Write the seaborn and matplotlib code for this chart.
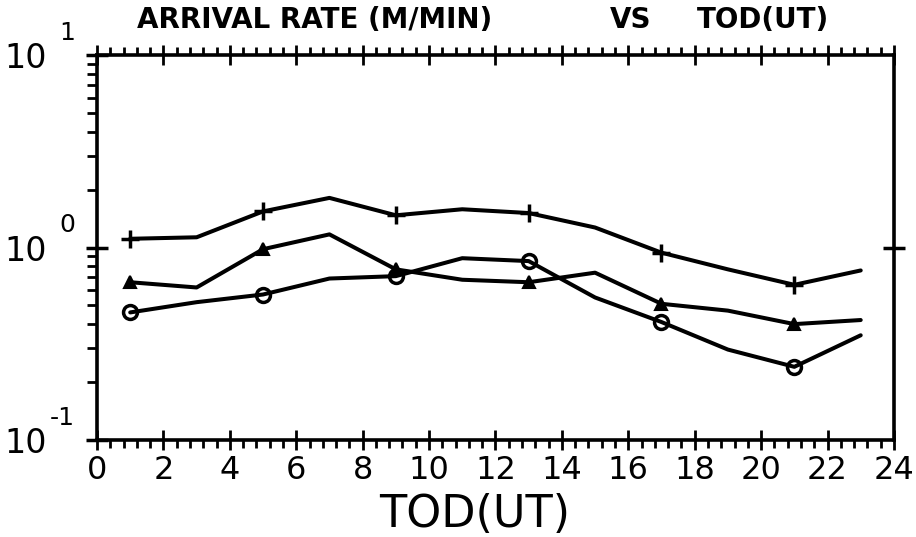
import numpy as np
import pandas as pd
import matplotlib
matplotlib.use('Agg')
import matplotlib.pyplot as plt
import seaborn as sns
from matplotlib.ticker import MultipleLocator, LogLocator, FixedLocator, NullLocator, NullFormatter

# data (arrival rate, meteors per minute, vs time of day)
hours = [1, 3, 5, 7, 9, 11, 13, 15, 17, 19, 21, 23]
rate_plus = [1.11, 1.13, 1.54, 1.81, 1.47, 1.58, 1.51, 1.27, 0.94, 0.77, 0.64, 0.76]
rate_tri = [0.66, 0.62, 0.98, 1.17, 0.77, 0.68, 0.66, 0.74, 0.51, 0.47, 0.40, 0.42]
rate_circ = [0.46, 0.52, 0.57, 0.69, 0.71, 0.88, 0.85, 0.55, 0.41, 0.295, 0.24, 0.35]

series_names = ['plus', 'tri', 'circ']
x_ticks = list(range(0, 25, 2))
y_ticks = [0.1, 1, 10]
y_exponents = ['-1', '0', '1']

df = pd.DataFrame({
    'TOD': hours * 3,
    'rate': rate_plus + rate_tri + rate_circ,
    'series': [s for s in series_names for _ in hours],
})

sns.set_style('ticks')
plt.rcParams['font.family'] = ['DejaVu Sans']
plt.rcParams['text.color'] = 'black'
plt.rcParams['xtick.color'] = 'black'
plt.rcParams['ytick.color'] = 'black'
plt.rcParams['axes.edgecolor'] = 'black'
plt.rcParams['axes.labelcolor'] = 'black'

fig = plt.figure(figsize=(9.16, 5.37), dpi=100)
ax = fig.add_axes([0.1059, 0.1806, 0.8700, 0.7170])

marker_style = {
    'plus': dict(marker='+', markersize=13, markeredgewidth=2.5,
                 markeredgecolor='black', markerfacecolor='black'),
    'tri': dict(marker='^', markersize=9, markeredgewidth=1.5,
                markeredgecolor='black', markerfacecolor='black'),
    'circ': dict(marker='o', markersize=10, markeredgewidth=2.5,
                 markeredgecolor='black', markerfacecolor='none'),
}

for s in series_names:
    sns.lineplot(data=df[df['series'] == s], x='TOD', y='rate', ax=ax,
                 color='black', linewidth=2.9, markevery=2, legend=False,
                 **marker_style[s])

ax.set_yscale('log')
ax.set_xlim(0, 24)
ax.set_ylim(0.1, 10)

for sp in ax.spines.values():
    sp.set_linewidth(2.6)
    sp.set_visible(True)

ax.xaxis.set_major_locator(FixedLocator(x_ticks))
ax.xaxis.set_minor_locator(MultipleLocator(0.4))
ax.set_xticklabels([str(t) for t in x_ticks], fontsize=23)

ax.yaxis.set_major_locator(FixedLocator(y_ticks))
ax.yaxis.set_minor_locator(LogLocator(base=10, subs=np.arange(2, 10)))
ax.yaxis.set_minor_formatter(NullFormatter())
ax.set_yticklabels(['10'] * len(y_ticks), fontsize=24)

ax.tick_params(axis='x', which='major', direction='inout', length=14, width=2,
               top=True, bottom=True, pad=4)
ax.tick_params(axis='x', which='minor', direction='out', length=6, width=2,
               top=True, bottom=True)
ax.tick_params(axis='y', which='major', direction='inout', length=16, width=2.5,
               left=True, right=False, pad=28)
ax.tick_params(axis='y', which='minor', direction='out', length=7, width=2,
               left=True, right=False)

# exponents written apart from the "10", as on the plotter output
for val, ex in zip(y_ticks, y_exponents):
    ax.annotate(ex, xy=(0, val), xycoords=('axes fraction', 'data'),
                xytext=(-16, 16), textcoords='offset points',
                fontsize=18, ha='right', va='center', annotation_clip=False)

# right axis only carries the tick at 10^0
ax2 = ax.twinx()
ax2.set_yscale('log')
ax2.set_ylim(0.1, 10)
ax2.yaxis.set_major_locator(FixedLocator([1]))
ax2.yaxis.set_minor_locator(NullLocator())
ax2.yaxis.set_major_formatter(NullFormatter())
ax2.tick_params(axis='y', which='major', direction='inout', length=16, width=2.5)
for sp in ax2.spines.values():
    sp.set_visible(False)

ax.set_xlabel('TOD(UT)', fontsize=32)
ax.xaxis.set_label_coords(0.474, -0.137)
ax.set_ylabel('')

fig.text(0.1495, 0.962, 'ARRIVAL RATE (M/MIN)', fontsize=20, fontweight='bold', ha='left', va='center')
fig.text(0.666, 0.962, 'VS', fontsize=20, fontweight='bold', ha='left', va='center')
fig.text(0.761, 0.962, 'TOD(UT)', fontsize=20, fontweight='bold', ha='left', va='center')

fig.savefig('out.png', dpi=100, facecolor='white')
